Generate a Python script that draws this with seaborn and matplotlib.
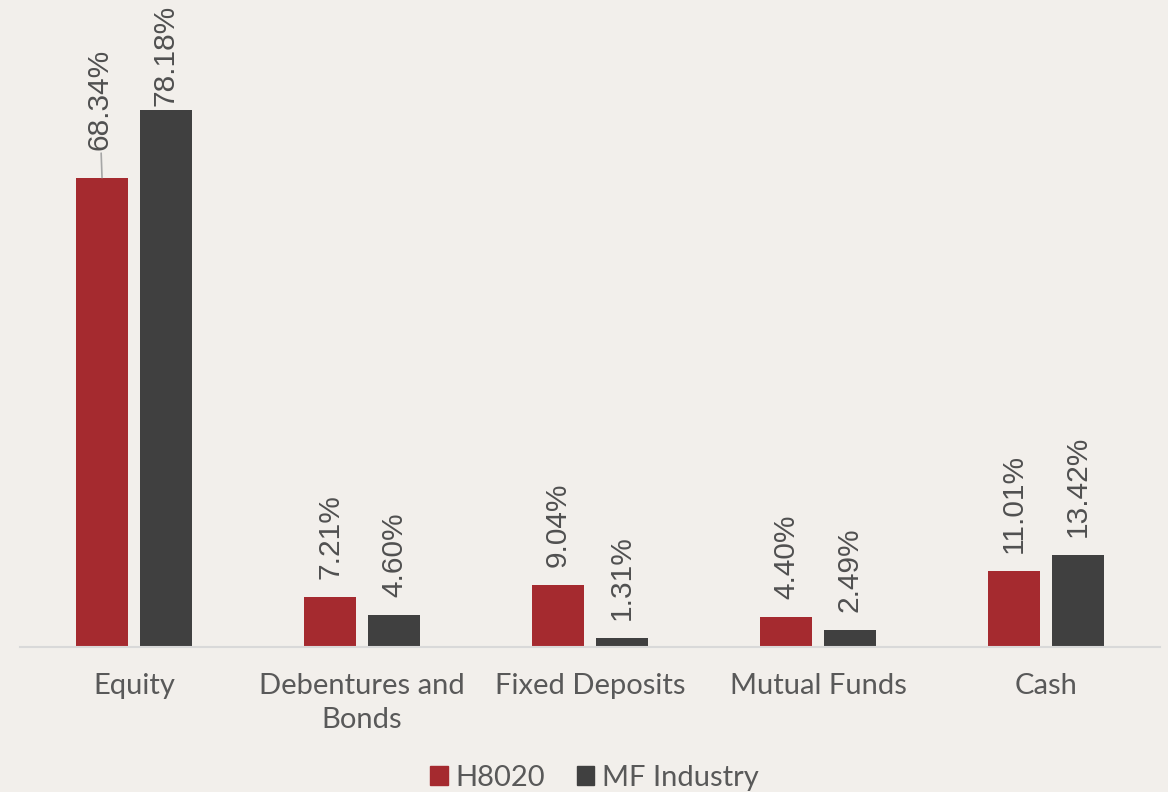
import pandas as pd
import seaborn as sns
import matplotlib.pyplot as plt

categories = ["Equity", "Debentures and\nBonds", "Fixed Deposits", "Mutual Funds", "Cash"]
h8020 = [68.34, 7.21, 9.04, 4.40, 11.01]
mf_industry = [78.18, 4.60, 1.31, 2.49, 13.42]
series = ["H8020", "MF Industry"]

bg = "#F2EFEB"
colors = ["#A52A2F", "#404040"]
text_color = "#595959"

df = pd.DataFrame({
    "category": categories * 2,
    "value": h8020 + mf_industry,
    "series": [series[0]] * len(categories) + [series[1]] * len(categories),
})

sns.set_theme(style="white")
plt.rcParams['font.family'] = ['Lato', 'DejaVu Sans']

fig = plt.figure(figsize=(11.68, 7.92), dpi=100, facecolor=bg)
ax = fig.add_axes([20 / 1168, 145 / 792, 1140 / 1168, 647 / 792])
ax.set_facecolor(bg)

sns.barplot(data=df, x="category", y="value", hue="series", palette=colors,
            width=0.561, gap=0.2, ax=ax, legend=False, saturation=1,
            edgecolor="none")

ax.set_ylim(0, 94.2)
ax.set_xlim(-0.5, len(categories) - 0.5)
ax.set_yticks([])
ax.set_xlabel("")
ax.set_ylabel("")
for s in ["top", "right", "left"]:
    ax.spines[s].set_visible(False)
ax.spines["bottom"].set_color("#D9D9D9")
ax.spines["bottom"].set_linewidth(1.5)
ax.tick_params(axis="x", length=0, pad=19, labelsize=21, labelcolor=text_color)
for lbl in ax.get_xticklabels():
    lbl.set_linespacing(1.35)

label_font = dict(rotation=90, ha="center", va="bottom", fontsize=21.5, color="#505050",
                  family=["Liberation Sans", "DejaVu Sans"])
for container in ax.containers:
    for bar in container:
        h = bar.get_height()
        x = bar.get_x() + bar.get_width() / 2
        txt = f"{h:.2f}%"
        if h > 75:
            # tallest label pushed down to fit the plot area
            ax.annotate(txt, xy=(x, h), xytext=(0, 3), textcoords="offset points", **label_font)
        elif h > 60:
            ax.annotate(txt, xy=(x, h), xytext=(-2, 20), textcoords="offset points",
                        arrowprops=dict(arrowstyle="-", color="#A6A6A6", lw=1.2,
                                        shrinkA=0, shrinkB=0), **label_font)
        else:
            ax.annotate(txt, xy=(x, h), xytext=(0, 13), textcoords="offset points", **label_font)

handles = [plt.Rectangle((0, 0), 1, 1, color=c) for c in colors]
fig.legend(handles, series, loc="center", bbox_to_anchor=(0.509, 0.018), ncol=2,
           frameon=False, fontsize=21, labelcolor=text_color, handlelength=0.6,
           handleheight=0.6, handletextpad=0.25, columnspacing=1.1, borderpad=0)

fig.savefig("out.png", dpi=100, facecolor=bg)
